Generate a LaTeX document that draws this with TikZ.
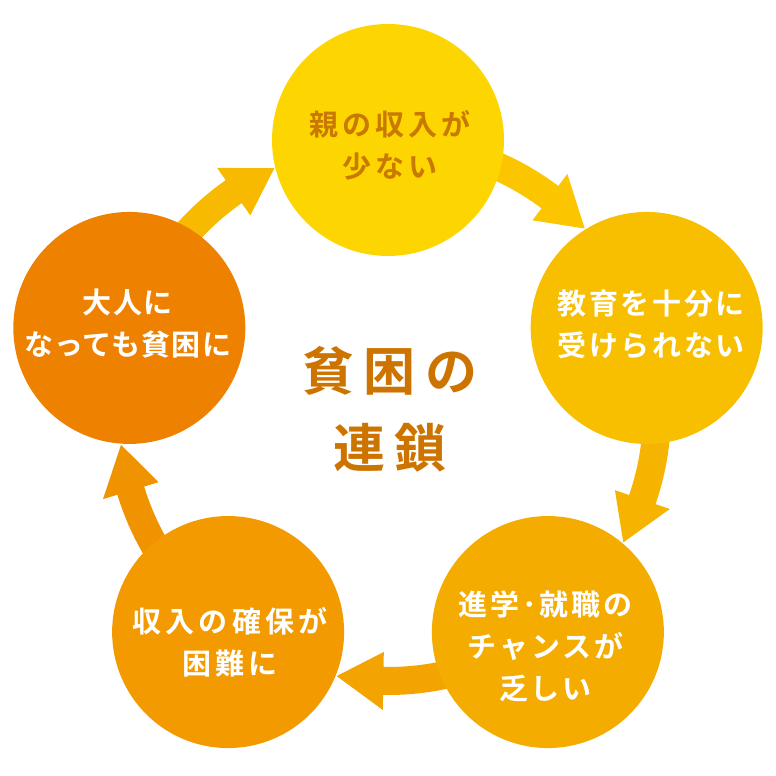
\documentclass[tikz,border=0pt]{standalone}
\usepackage{fontspec}
\newfontfamily\jpc{Noto Sans CJK JP}[UprightFont=* Bold]
\usetikzlibrary{calc}
\definecolor{cTop}{HTML}{FDD500}
\definecolor{cRight}{HTML}{F8BE00}
\definecolor{cBR}{HTML}{F5AC00}
\definecolor{cBL}{HTML}{F29A00}
\definecolor{cLeft}{HTML}{EE8200}
\definecolor{arA}{HTML}{F8BA00}
\definecolor{arB}{HTML}{FBC600}
\definecolor{arC}{HTML}{F6B400}
\definecolor{arD}{HTML}{F3A400}
\definecolor{arE}{HTML}{F09300}
\definecolor{txtTop}{HTML}{C97800}
\definecolor{txtCenter}{HTML}{CD7300}
\newcommand{\lsp}[1]{\jpc\fontsize{29}{42}\selectfont\addfontfeature{LetterSpace=#1}}
\begin{document}
\begin{tikzpicture}[x=1pt,y=1pt,
  bub/.style={circle, minimum size=232pt, inner sep=0pt},
  lbl/.style={align=center, text=white, inner sep=0pt}]
\useasboundingbox (0,0) rectangle (776,776);
\coordinate (O) at (388,364);
% arrows (drawn below the circles)
\foreach \src/\col in {162/arA, 90/arB, 18/arC, -54/arD, -126/arE} {
  \pgfmathsetmacro\myG{\src-72}
  \pgfmathsetmacro\myA{\src-12}
  \pgfmathsetmacro\myB{\myG+34}
  \pgfmathsetmacro\myH{\myG+35}
  \pgfmathsetmacro\myT{\myG+25}
  \fill[\col] ($(O)+(\myA:283pt)$) arc[start angle=\myA, end angle=\myB, radius=283pt]
     -- ($(O)+(\myB:255pt)$) arc[start angle=\myB, end angle=\myA, radius=255pt] -- cycle;
  \fill[\col] ($(O)+(\myH:240pt)$) -- ($(O)+(\myH:298pt)$) -- ($(O)+(\myT:269pt)$) -- cycle;
}
% circles
\node[bub, fill=cTop]   (top)   at ($(O)+(90:272pt)$) {};
\node[bub, fill=cRight] (right) at ($(O)+(18:272pt)$) {};
\node[bub, fill=cBR]    (br)    at ($(O)+(-54:272pt)$) {};
\node[bub, fill=cBL]    (bl)    at ($(O)+(-126:272pt)$) {};
\node[bub, fill=cLeft]  (left)  at ($(O)+(162:272pt)$) {};
% labels
\node[lbl, text=txtTop, font=\lsp{14}] (ttop) at (388,631) {親の収入が\kern-4pt\\少ない\kern-4pt};
\node[lbl, font=\lsp{9}] (tright) at (650,452) {教育を十分に\kern-2.6pt\\受けられない\kern-2.6pt};
\node[lbl, font=\lsp{10}] (tbr) at (544,130) {進学･就職の\kern-2.9pt\\チャンスが\kern-2.9pt\\乏しい\kern-2.9pt};
\node[lbl, font=\lsp{14}] (tbl) at (228,134) {収入の確保が\kern-4pt\\困難に\kern-4pt};
\node[lbl, font=\lsp{4}] (tleft) at (127,452) {大人に\kern-1.2pt\\なっても貧困に\kern-1.2pt};
\node[align=center, inner sep=0pt, text=txtCenter, font=\jpc\fontsize{52}{77}\selectfont\addfontfeature{LetterSpace=19}] (center) at (385,367) {貧困の\kern-10pt\\連鎖\kern-10pt};
\end{tikzpicture}
\end{document}
